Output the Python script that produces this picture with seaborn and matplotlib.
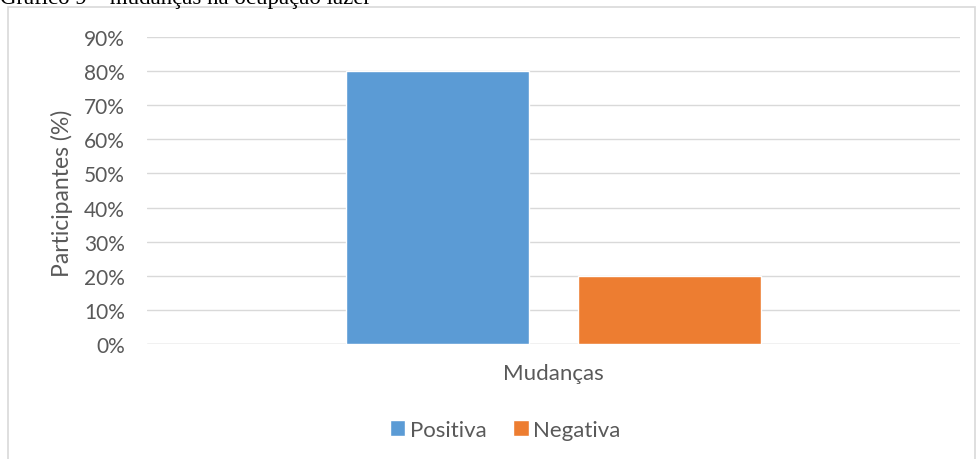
import matplotlib
matplotlib.use("Agg")
import matplotlib.pyplot as plt
import seaborn as sns
import pandas as pd
from matplotlib.patches import Rectangle
from matplotlib.ticker import PercentFormatter

categories = ["Mudanças"]
series = ["Positiva", "Negativa"]
values = [0.80, 0.20]
colors = ["#5B9BD5", "#ED7D31"]
yticks = [0.0, 0.1, 0.2, 0.3, 0.4, 0.5, 0.6, 0.7, 0.8, 0.9]
title = "Gráfico 9 – mudanças na ocupação lazer"
ylabel = "Participantes (%)"

df = pd.DataFrame({"cat": categories * len(series), "serie": series, "val": values})

sns.set_theme(style="white")
plt.rcParams["font.family"] = ["Lato", "DejaVu Sans"]

W, H = 976, 460
fig = plt.figure(figsize=(W / 100, H / 100), dpi=100)
ax = fig.add_axes([147 / W, 115 / H, (960 - 147) / W, (345 - 38) / H])

sns.barplot(data=df, x="cat", y="val", hue="serie", palette=colors,
            width=0.571, gap=0.211, ax=ax, legend=True, saturation=1)

ax.set_xlim(-0.5, 0.5)
ax.set_ylim(0, 0.9)
ax.set_yticks(yticks)
ax.yaxis.set_major_formatter(PercentFormatter(1.0, decimals=0))
ax.grid(axis="y", color="#D9D9D9", linewidth=1)
ax.set_axisbelow(True)
for s in ax.spines.values():
    s.set_visible(False)
ax.axhline(0, color="#D9D9D9", linewidth=1, zorder=0.5)
ax.tick_params(axis="y", length=0, labelsize=15, labelcolor="#595959", pad=16)
ax.tick_params(axis="x", length=0, labelsize=16, labelcolor="#595959", pad=14)
ax.set_xlabel("")
ax.set_ylabel(ylabel, fontsize=16.5, color="#595959", va="center")
ax.yaxis.set_label_coords((62 - 147) / 813, (345 - 193) / 307)

leg_x = (505 - 147) / 813
ax.legend(loc="center", bbox_to_anchor=(leg_x, (345 - 431) / 307), ncol=2, frameon=False,
          fontsize=16, handlelength=0.7, handleheight=0.7, handletextpad=0.2,
          columnspacing=1.2, labelcolor="#595959")

# outer chart border
fig.patches.append(Rectangle((8 / W, -0.05), (975 - 8) / W, (H - 8) / H + 0.05,
                             transform=fig.transFigure, fill=False,
                             edgecolor="#D9D9D9", linewidth=1.2))
fig.text(0.0, (H - 4) / H, title, family=["Liberation Serif"], fontsize=16.5,
         va="baseline", ha="left", color="black")

fig.savefig("out.png", dpi=100, facecolor="white")
